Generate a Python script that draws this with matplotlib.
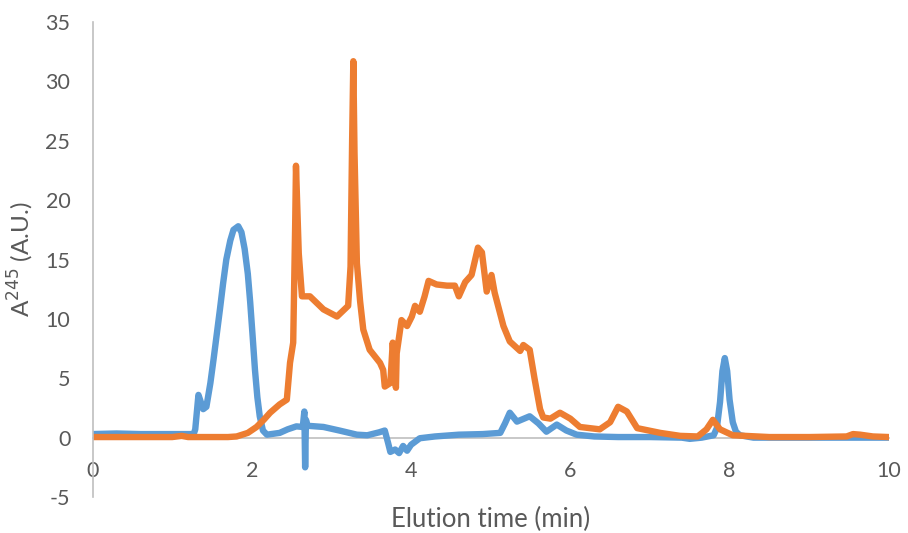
import matplotlib.pyplot as plt

# blue trace (time in min, absorbance)
blue_t = [0.0, 0.3, 0.6, 1.0, 1.27, 1.29, 1.33, 1.39, 1.43, 1.48, 1.52, 1.56, 1.60, 1.64,
          1.68, 1.73, 1.77, 1.83, 1.87, 1.91, 1.95, 1.98, 2.01, 2.04, 2.07, 2.10, 2.14,
          2.19, 2.35, 2.45, 2.56, 2.64, 2.66, 2.67, 2.68, 2.7, 2.9, 3.1, 3.32, 3.45,
          3.6, 3.67, 3.71, 3.74, 3.8, 3.85, 3.9, 3.95, 4.0, 4.11, 4.3, 4.6, 4.9, 5.12,
          5.18, 5.24, 5.33, 5.49, 5.6, 5.7, 5.83, 5.95, 6.08, 6.3, 6.6, 7.0, 7.4, 7.5,
          7.65, 7.8, 7.84, 7.88, 7.91, 7.94, 7.97, 8.0, 8.04, 8.08, 8.13, 8.3, 8.7, 9.2,
          9.6, 10.0]
blue_a = [0.3, 0.35, 0.3, 0.3, 0.3, 0.7, 3.6, 2.4, 2.6, 4.6, 6.6, 8.7, 10.8, 13.0,
          15.0, 16.6, 17.5, 17.8, 17.3, 15.9, 13.8, 11.4, 8.6, 5.7, 3.4, 1.8, 0.6,
          0.25, 0.4, 0.7, 0.95, 0.9, 2.2, -2.5, 1.5, 1.0, 0.9, 0.6, 0.25, 0.2,
          0.45, 0.6, -0.4, -1.2, -1.0, -1.3, -0.7, -1.1, -0.6, -0.05, 0.1, 0.25, 0.3, 0.4,
          1.2, 2.1, 1.35, 1.8, 1.2, 0.5, 1.1, 0.6, 0.25, 0.1, 0.05, 0.05, 0.0, -0.1,
          0.0, 0.2, 0.8, 3.0, 5.6, 6.7, 5.6, 3.2, 1.3, 0.5, 0.2, 0.0, 0.0, 0.0,
          0.0, 0.0]

# orange trace
orange_t = [0.0, 0.5, 1.0, 1.12, 1.2, 1.5, 1.7, 1.81, 1.95, 2.06, 2.15, 2.23, 2.35, 2.44,
            2.48, 2.52, 2.545, 2.555, 2.59, 2.63, 2.73, 2.9, 3.07, 3.21, 3.24, 3.26,
            3.275, 3.29, 3.32, 3.36, 3.40, 3.48, 3.61, 3.65, 3.67, 3.74, 3.77, 3.79,
            3.81, 3.82, 3.88, 3.95, 4.01, 4.05, 4.11, 4.17, 4.22, 4.32, 4.45, 4.55, 4.60,
            4.68, 4.76, 4.84, 4.89, 4.95, 5.01, 5.05, 5.16, 5.24, 5.37, 5.41, 5.49, 5.55,
            5.62, 5.66, 5.75, 5.87, 6.0, 6.12, 6.37, 6.5, 6.6, 6.71, 6.84, 7.13, 7.38,
            7.6, 7.71, 7.79, 7.88, 8.04, 8.5, 9.0, 9.47, 9.55, 9.64, 9.8, 10.0]
orange_a = [0.05, 0.05, 0.05, 0.15, 0.05, 0.05, 0.05, 0.1, 0.4, 0.9, 1.5, 2.1, 2.8, 3.2,
            6.3, 8.0, 18.0, 22.9, 15.5, 11.9, 11.9, 10.8, 10.2, 11.1, 14.4, 25.0,
            31.7, 24.0, 14.7, 11.5, 9.1, 7.4, 6.3, 5.7, 4.3, 4.6, 8.0, 6.0,
            4.2, 7.1, 9.9, 9.4, 10.2, 11.1, 10.6, 11.9, 13.2, 12.9, 12.8, 12.8, 11.9,
            13.1, 13.7, 16.0, 15.6, 12.3, 13.7, 12.2, 9.4, 8.1, 7.3, 7.8, 7.4, 5.0,
            2.4, 1.7, 1.6, 2.1, 1.6, 0.9, 0.7, 1.3, 2.6, 2.2, 0.8, 0.4, 0.15,
            0.1, 0.7, 1.5, 0.7, 0.2, 0.05, 0.05, 0.1, 0.3, 0.25, 0.1, 0.05]

xticks = [0, 2, 4, 6, 8, 10]
yticks = [-5, 0, 5, 10, 15, 20, 25, 30, 35]

plt.rcParams['font.family'] = ['Lato', 'DejaVu Sans']
plt.rcParams['axes.unicode_minus'] = False
txt = '#595959'
axc = '#BFBFBF'

fig = plt.figure(figsize=(9.08, 5.33), dpi=100)
ax = fig.add_axes([0.1019, 0.0675, 0.877, 0.8912])

ax.plot(blue_t, blue_a, color='#5B9BD5', lw=4.6, solid_joinstyle='round', solid_capstyle='round')
ax.plot(orange_t, orange_a, color='#ED7D31', lw=4.6, solid_joinstyle='round', solid_capstyle='round')

ax.set_xlim(0, 10)
ax.set_ylim(-5, 35)
ax.set_xticks(xticks)
ax.set_yticks(yticks)

ax.spines['top'].set_visible(False)
ax.spines['right'].set_visible(False)
ax.spines['bottom'].set_position(('data', 0))
ax.spines['bottom'].set_color(axc)
ax.spines['left'].set_color(axc)
ax.spines['bottom'].set_linewidth(1.2)
ax.spines['left'].set_linewidth(1.2)
ax.spines['bottom'].set_zorder(0)

ax.tick_params(axis='both', length=0, labelsize=15.5, labelcolor=txt)
ax.tick_params(axis='x', pad=17)
ax.tick_params(axis='y', pad=16)

ax.set_xlabel('Elution time (min)', fontsize=18.5, color=txt)
ax.xaxis.set_label_coords(0.5, -0.02)
ax.set_ylabel('A$^{245}$ (A.U.)', fontsize=17.5, color=txt)
ax.yaxis.set_label_coords(-0.071, 0.5)

fig.savefig('out.png', dpi=100)
